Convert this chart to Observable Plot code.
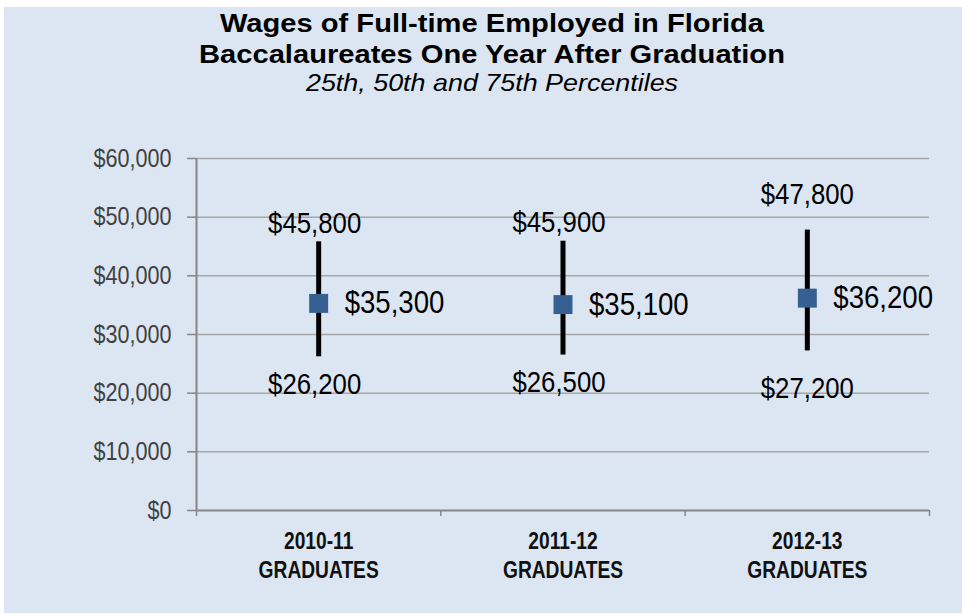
<!DOCTYPE html>
<html>
<head>
<meta charset="utf-8">
<script src="https://cdn.jsdelivr.net/npm/d3@7"></script>
<script src="https://cdn.jsdelivr.net/npm/@observablehq/plot@0.6"></script>
<style>
  html, body { margin: 0; padding: 0; background: #ffffff; }
  body { width: 962px; height: 615px; overflow: hidden; position: relative; font-family: "Liberation Sans", Arial, sans-serif; }
  #bg { position: absolute; left: 4px; top: 7px; width: 958px; height: 606px; background: #dce6f2; }
  #titles { position: absolute; left: 0; top: 0; width: 984px; text-align: center; transform: scaleX(1.12); transform-origin: 50% 0; color: #000; }
  .t1 { position: absolute; left: 0; width: 100%; font-weight: bold; font-size: 26px; line-height: 26px; white-space: nowrap; }
  .t2 { position: absolute; left: 0; width: 100%; font-style: italic; font-size: 24px; line-height: 24px; white-space: nowrap; }
  #chart { position: absolute; left: 0; top: 110px; }
</style>
</head>
<body>
<div id="bg"></div>
<div id="titles">
  <div class="t1" style="top:10px">Wages of Full-time Employed in Florida</div>
  <div class="t1" style="top:41px">Baccalaureates One Year After Graduation</div>
  <div class="t2" style="top:71px">25th, 50th and 75th Percentiles</div>
</div>
<div id="chart"></div>
<script>
// ---- data ----
const categories = ["2010-11\nGRADUATES", "2011-12\nGRADUATES", "2012-13\nGRADUATES"];
const p25 = [26200, 26500, 27200];
const p50 = [35300, 35100, 36200];
const p75 = [45800, 45900, 47800];
const yTicks = [0, 10000, 20000, 30000, 40000, 50000, 60000];

// ---- build table ----
const rows = categories.map((c, i) => ({ cat: c, pos: i + 0.5, lo: p25[i], mid: p50[i], hi: p75[i] }));
const boundaries = d3.range(categories.length + 1);
const fmt = d3.format("$,.0f");
const font = '"Liberation Sans", Arial, sans-serif';
const last = categories.length - 1;

const chart = Plot.plot({
  width: 962,
  height: 505,
  marginLeft: 196,
  marginRight: 33,
  marginTop: 48,
  marginBottom: 105,
  style: { background: "transparent", overflow: "visible", fontFamily: font },
  x: { domain: [0, categories.length], axis: null },
  y: { domain: [0, 60000], axis: null },
  marks: [
    Plot.gridY(yTicks.filter(d => d > 0), { stroke: "#a6a6a6", strokeOpacity: 1, strokeWidth: 1.5 }),
    Plot.axisY(yTicks, {
      label: null, tickSize: 9, tickPadding: 16, tickFormat: fmt,
      stroke: "#868686", strokeWidth: 1.5,
      fontSize: 26, fill: "#404040"
    }),
    Plot.axisX(boundaries, { label: null, tickSize: 6, tickFormat: () => "", stroke: "#868686", strokeWidth: 1.5 }),
    Plot.axisX(rows.map(d => d.pos), {
      label: null, tickSize: 0, tickPadding: 19,
      tickFormat: (d, i) => categories[i],
      fontSize: 24, fontWeight: "bold", fill: "#111", lineHeight: 1.17
    }),
    Plot.ruleX([0], { stroke: "#868686", strokeWidth: 2 }),
    Plot.ruleY([0], { stroke: "#868686", strokeWidth: 2 }),
    Plot.ruleX(rows, { x: "pos", y1: "lo", y2: "hi", stroke: "#000", strokeWidth: 5 }),
    Plot.dot(rows, { x: "pos", y: "mid", symbol: "square", r: 10.7, fill: "#376092", stroke: "none" }),
    // 75th percentile labels
    Plot.text(rows, { filter: (d, i) => i < last, x: "pos", y: "hi", text: d => fmt(d.hi), lineAnchor: "bottom", dy: -9, dx: -4, fontSize: 30, fill: "#000" }),
    Plot.text(rows, { filter: (d, i) => i === last, x: "pos", y: "hi", text: d => fmt(d.hi), lineAnchor: "bottom", dy: -26, fontSize: 30, fill: "#000" }),
    // 25th percentile labels
    Plot.text(rows, { filter: (d, i) => i < last, x: "pos", y: "lo", text: d => fmt(d.lo), lineAnchor: "bottom", dy: 37, dx: -4, fontSize: 30, fill: "#000" }),
    Plot.text(rows, { filter: (d, i) => i === last, x: "pos", y: "lo", text: d => fmt(d.lo), lineAnchor: "bottom", dy: 47, fontSize: 30, fill: "#000" }),
    // median labels
    Plot.text(rows, { x: "pos", y: "mid", text: d => fmt(d.mid), textAnchor: "start", lineAnchor: "middle", dx: 26, fontSize: 31, fill: "#000" })
  ]
});

// Narrow (condensed) look of the reference's text: compress glyphs horizontally about each anchor
const squeeze = { "26": 0.83, "24": 0.80, "30": 0.86, "31": 0.89 };
chart.querySelectorAll("text").forEach(t => {
  const g = t.closest("[font-size]");
  const k = g ? squeeze[g.getAttribute("font-size")] : undefined;
  if (!k) return;
  const tr = t.getAttribute("transform");
  if (tr && tr.includes("translate")) {
    t.setAttribute("transform", tr + ` scale(${k},1)`);
  } else {
    const x = +(t.getAttribute("x") || 0);
    t.setAttribute("transform", `translate(${x},0) scale(${k},1) translate(${-x},0)`);
  }
});

document.getElementById("chart").appendChild(chart);
</script>
</body>
</html>
